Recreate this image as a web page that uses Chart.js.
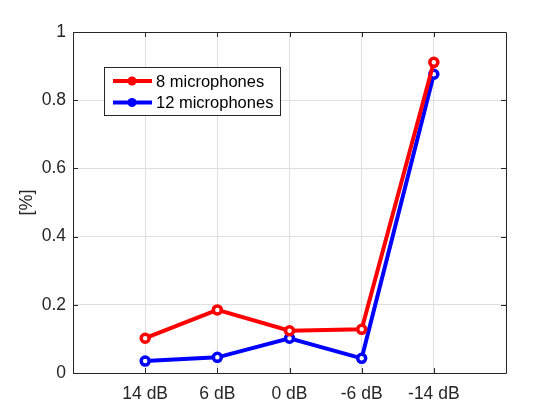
<!DOCTYPE html>
<html>
<head>
<meta charset="utf-8">
<script src="https://cdn.jsdelivr.net/npm/chart.js@4"></script>
<style>
  html, body { margin: 0; padding: 0; background: #fff; }
  #wrap { width: 560px; height: 420px; }
</style>
</head>
<body>
<div id="wrap"><canvas id="chart"></canvas></div>
<script>
// categories on the x axis, positioned at 1..5
var categories = ["14 dB", "6 dB", "0 dB", "-6 dB", "-14 dB"];
var mic8 = [0.102, 0.185, 0.124, 0.128, 0.911];
var mic12 = [0.035, 0.046, 0.102, 0.043, 0.876];
var yTicks = [0, 0.2, 0.4, 0.6, 0.8, 1];

var axisColor = "#262626";
var gridColor = "#dfdfdf";
var font = "Liberation Sans, Arial, Helvetica, sans-serif";

function pts(vals) {
    return vals.map(function(v, i) { return { x: i + 1, y: v }; });
}

// box, inward ticks and the legend, in MATLAB style
var matlabAxes = {
    id: "matlabAxes",
    afterDatasetsDraw: function(chart) {
        var ctx = chart.ctx, a = chart.chartArea, x = chart.scales.x, y = chart.scales.y;
        ctx.save();
        ctx.strokeStyle = axisColor;
        ctx.lineWidth = 1;
        ctx.beginPath();
        ctx.rect(Math.round(a.left) + 0.5, Math.round(a.top) + 0.5,
                 Math.round(a.right - a.left), Math.round(a.bottom - a.top));
        ctx.stroke();
        ctx.beginPath();
        categories.forEach(function(c, i) {
            var px = Math.round(x.getPixelForValue(i + 1)) + 0.5;
            ctx.moveTo(px, a.bottom); ctx.lineTo(px, a.bottom - 5);
            ctx.moveTo(px, a.top); ctx.lineTo(px, a.top + 5);
        });
        yTicks.forEach(function(t) {
            var py = Math.round(y.getPixelForValue(t)) + 0.5;
            ctx.moveTo(a.left, py); ctx.lineTo(a.left + 5, py);
            ctx.moveTo(a.right, py); ctx.lineTo(a.right - 5, py);
        });
        ctx.stroke();

        // legend
        var lx = 104, ly = 67, lw = 176, lh = 48;
        ctx.fillStyle = "#fff";
        ctx.fillRect(lx, ly, lw, lh);
        ctx.strokeStyle = axisColor;
        ctx.strokeRect(lx + 0.5, ly + 0.5, lw, lh);
        ctx.font = "16.5px " + font;
        ctx.textBaseline = "middle";
        chart.data.datasets.forEach(function(ds, i) {
            var cy = ly + 14 + i * 21.5;
            ctx.strokeStyle = ds.borderColor;
            ctx.lineWidth = 4;
            ctx.beginPath();
            ctx.moveTo(lx + 9, cy); ctx.lineTo(lx + 48, cy);
            ctx.stroke();
            ctx.fillStyle = ds.borderColor;
            ctx.beginPath();
            ctx.arc(lx + 28, cy, 4.5, 0, Math.PI * 2);
            ctx.fill();
            ctx.fillStyle = "#000";
            ctx.fillText(ds.label, lx + 52, cy + 1);
        });
        ctx.restore();
    }
};

function series(label, color, vals) {
    return {
        label: label,
        data: pts(vals),
        borderColor: color,
        backgroundColor: color,
        borderWidth: 4,
        pointRadius: 4,
        pointBorderWidth: 3.5,
        pointBackgroundColor: "#fff",
        pointBorderColor: color,
        tension: 0
    };
}

new Chart(document.getElementById("chart"), {
    type: "line",
    data: {
        datasets: [
            series("8 microphones", "#ff0000", mic8),
            series("12 microphones", "#0000ff", mic12)
        ]
    },
    options: {
        responsive: true,
        maintainAspectRatio: false,
        animation: false,
        layout: { padding: { left: 0, top: 32, right: 54, bottom: 0 } },
        plugins: { legend: { display: false }, tooltip: { enabled: false } },
        scales: {
            x: {
                type: "linear",
                min: 0, max: 6,
                afterBuildTicks: function(s) {
                    s.ticks = categories.map(function(c, i) { return { value: i + 1 }; });
                },
                afterFit: function(s) { s.height = 47; },
                border: { display: false },
                grid: { color: gridColor, drawTicks: false },
                ticks: {
                    padding: 11,
                    color: axisColor,
                    font: { size: 17.5, family: font },
                    maxRotation: 0,
                    callback: function(v) { return categories[v - 1]; }
                }
            },
            y: {
                min: 0, max: 1,
                afterBuildTicks: function(s) {
                    s.ticks = yTicks.map(function(t) { return { value: t }; });
                },
                afterFit: function(s) { s.width = 73; },
                border: { display: false },
                grid: { color: gridColor, drawTicks: false },
                title: {
                    display: true,
                    text: "[%]",
                    color: axisColor,
                    font: { size: 18, family: font },
                    padding: { top: 16, bottom: 6 }
                },
                ticks: {
                    padding: 7,
                    color: axisColor,
                    font: { size: 17.5, family: font },
                    callback: function(v) { return String(v); }
                }
            }
        }
    },
    plugins: [matlabAxes]
});
</script>
</body>
</html>
